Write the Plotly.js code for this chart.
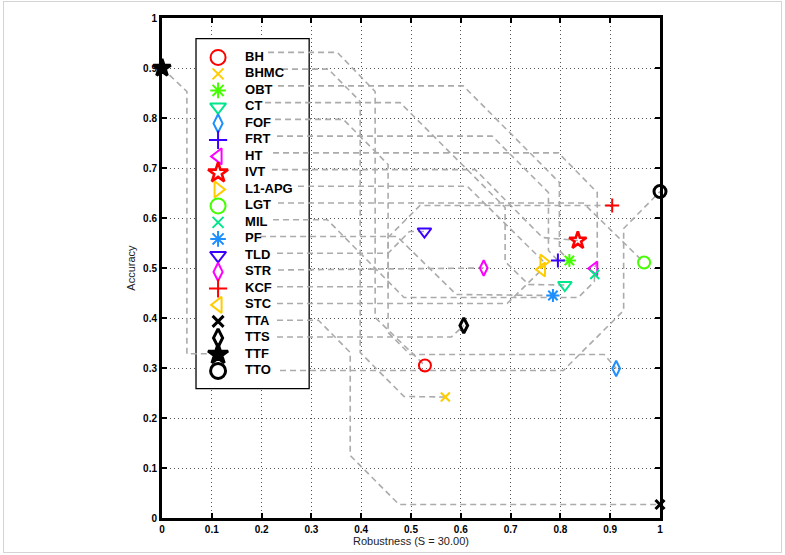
<!DOCTYPE html>
<html>
<head>
<meta charset="utf-8">
<script src="https://cdn.plot.ly/plotly-3.0.1.min.js"></script>
<style>
  html, body { margin: 0; padding: 0; background: #fff; }
  #wrap { position: relative; width: 785px; height: 555px; }
  #chart { position: absolute; left: 0; top: 0; width: 785px; height: 555px; }
  #frame { position: absolute; left: 3px; top: 1px; width: 777px; height: 550px;
           border: 1px solid #d4d4d4; pointer-events: none; }
</style>
</head>
<body>
<div id="wrap"><div id="chart"></div><div id="frame"></div></div>
<script>
// Trackers and their (robustness, accuracy) scores
const methods = ['BH','BHMC','OBT','CT','FOF','FRT','HT','IVT','L1-APG','LGT',
                 'MIL','PF','TLD','STR','KCF','STC','TTA','TTS','TTF','TTO'];
const robustness = [0.528, 0.569, 0.818, 0.809, 0.912, 0.795, 0.868, 0.835, 0.766, 0.968,
                    0.869, 0.785, 0.527, 0.646, 0.904, 0.763, 1.000, 0.606, 0.000, 1.000];
const accuracy   = [0.305, 0.242, 0.515, 0.466, 0.299, 0.515, 0.499, 0.555, 0.513, 0.511,
                    0.487, 0.445, 0.573, 0.500, 0.625, 0.497, 0.027, 0.385, 0.900, 0.653];
const axisTicks = [0, 0.1, 0.2, 0.3, 0.4, 0.5, 0.6, 0.7, 0.8, 0.9, 1];

// Marker styling per tracker
const colors = ['#ff0000','#ffcc00','#44ff00','#00e68a','#1e8fff','#3a00ff','#ff00ff',
                '#ff0000','#ffcc00','#44ff00','#00e68a','#1e8fff','#3a00ff','#ff00ff',
                '#ff0000','#ffcc00','#000000','#000000','#000000','#000000'];
const symbols = ['circle-open','x-thin-open','asterisk-open','triangle-down-open','diamond-tall-open',
                 'cross-thin-open','triangle-left-open','star-open','triangle-right-open','circle-open',
                 'x-thin-open','asterisk-open','triangle-down-open','diamond-tall-open','cross-thin-open',
                 'triangle-left-open','x-thin-open','diamond-tall-open','star','circle-open'];
const strokeW = colors.map((c, i) => c === '#000000' ? 3 : (symbols[i].startsWith('star') ? 2.6 : 2));

// Symbol-dependent sizes for the plot area and for the legend
const sizeFor = (sym, big) => {
  if (sym.startsWith('x-thin')) return big ? 11 : 9;
  if (sym.startsWith('cross-thin')) return big ? 13 : 10;
  if (sym.startsWith('asterisk')) return big ? 13 : 11;
  if (sym.startsWith('diamond')) return big ? 13 : 11;
  if (sym.startsWith('triangle')) return big ? 14 : 12;
  if (sym.startsWith('star')) return big ? 15 : 13;
  return big ? 15 : 12;
};
const pointSizes = symbols.map(s => sizeFor(s, false));
const legendSizes = symbols.map(s => sizeFor(s, true));

// Legend box geometry (axis units)
const box = { x0: 0.0683, x1: 0.2955, y0: 0.2586, y1: 0.9586 };
const legendMarkerX = 0.1126, legendTextX = 0.1668;
const textRowY = i => 0.9212 - 0.0330 * i;
const lineRowY = i => 0.9312 - 0.03348 * i;

// Leader line routes: start x at the legend, bend points (null y = legend row), end at the point
const leaders = {
  'BH':     { from: 0.213, bends: [[0.352, null], [0.428, 0.853], [0.428, 0.401]] },
  'BHMC':   { from: 0.241, bends: [[0.334, null], [0.398, 0.833], [0.398, 0.331], [0.486, 0.243]] },
  'OBT':    { from: 0.233, bends: [[0.605, null], [0.798, 0.671], [0.798, 0.535]] },
  'CT':     { from: 0.207, bends: [[0.478, null], [0.689, 0.621], [0.689, 0.513], [0.736, 0.467]] },
  'FOF':    { from: 0.227, bends: [[0.364, null], [0.454, 0.707], [0.454, 0.371], [0.498, 0.327], [0.888, 0.327]] },
  'FRT':    { from: 0.231, bends: [[0.663, null], [0.776, 0.651], [0.776, 0.535]] },
  'HT':     { from: 0.223, bends: [[0.796, null], [0.874, 0.651], [0.874, 0.513]] },
  'IVT':    { from: 0.221, bends: [[0.629, null], [0.764, 0.561]] },
  'L1-APG': { from: 0.273, bends: [[0.613, null]] },
  'LGT':    { from: 0.233, bends: [[0.846, null]] },
  'MIL':    { from: 0.223, bends: [[0.332, null], [0.486, 0.441], [0.836, 0.441], [0.868, 0.473]] },
  'PF':     { from: 0.197, bends: [[0.472, null], [0.591, 0.447]] },
  'TLD':    { from: 0.231, bends: [[0.454, null], [0.497, 0.573]] },
  'STR':    { from: 0.233, bends: [] },
  'KCF':    { from: 0.231, bends: [[0.454, null], [0.454, 0.561], [0.518, 0.625]] },
  'STC':    { from: 0.231, bends: [[0.693, null]] },
  'TTA':    { from: 0.231, bends: [[0.314, null], [0.378, 0.331], [0.378, 0.125], [0.476, 0.027]] },
  'TTS':    { from: 0.231, bends: [[0.581, null]] },
  'TTF':    { from: 0.090, bends: [[0.050, null], [0.050, 0.853]] },
  'TTO':    { from: 0.237, bends: [[0.806, null], [0.927, 0.415], [0.927, 0.579]] }
};

const traces = [];

// Gray dashed leaders, drawn first so markers sit on top
methods.forEach((m, i) => {
  const r = leaders[m];
  const xs = [r.from], ys = [lineRowY(i)];
  r.bends.forEach(([bx, by]) => { xs.push(bx); ys.push(by === null ? lineRowY(i) : by); });
  xs.push(robustness[i]); ys.push(accuracy[i]);
  traces.push({
    type: 'scatter', mode: 'lines', x: xs, y: ys,
    line: { color: '#ababab', width: 1.6, dash: '6px,4px' },
    hoverinfo: 'skip', showlegend: false, cliponaxis: false
  });
});

// Legend markers and labels
traces.push({
  type: 'scatter', mode: 'markers',
  x: methods.map(() => legendMarkerX), y: methods.map((m, i) => textRowY(i)),
  marker: { symbol: symbols, color: colors, size: legendSizes, opacity: 1,
            line: { color: colors, width: strokeW } },
  hoverinfo: 'skip', showlegend: false, cliponaxis: false
});
traces.push({
  type: 'scatter', mode: 'text',
  x: methods.map(() => legendTextX), y: methods.map((m, i) => textRowY(i)),
  text: methods, textposition: 'middle right',
  textfont: { family: 'Liberation Sans, Arial, sans-serif', size: 13, color: '#000', weight: 'bold' },
  hoverinfo: 'skip', showlegend: false, cliponaxis: false
});

// The trackers themselves
traces.push({
  type: 'scatter', mode: 'markers', x: robustness, y: accuracy, text: methods,
  marker: { symbol: symbols, color: colors, size: pointSizes, opacity: 1,
            line: { color: colors, width: strokeW } },
  hovertemplate: '%{text}<br>R=%{x:.3f}<br>A=%{y:.3f}<extra></extra>',
  showlegend: false, cliponaxis: false
});

const axisCommon = {
  range: [0, 1], tickvals: axisTicks, ticks: 'inside', ticklen: 5, tickwidth: 2,
  tickcolor: '#000', showline: true, linecolor: '#000', linewidth: 3, mirror: 'ticks',
  showgrid: true, gridcolor: '#555', gridwidth: 1, griddash: '1px,3px',
  zeroline: false, layer: 'below traces', fixedrange: true,
  tickfont: { family: 'Liberation Sans, Arial, sans-serif', size: 10, color: '#000', weight: 'bold' },
  automargin: false
};

const layout = {
  width: 785, height: 555,
  margin: { l: 162, r: 125, t: 18, b: 37, pad: 0 },
  paper_bgcolor: '#fff', plot_bgcolor: '#fff',
  showlegend: false,
  xaxis: Object.assign({}, axisCommon, {
    title: { text: 'Robustness (S = 30.00)', standoff: 2,
             font: { family: 'Liberation Sans, Arial, sans-serif', size: 11, color: '#222' } }
  }),
  yaxis: Object.assign({}, axisCommon, {
    title: { text: 'Accuracy', standoff: 6,
             font: { family: 'Liberation Sans, Arial, sans-serif', size: 11, color: '#222' } }
  }),
  shapes: [{
    type: 'rect', xref: 'x', yref: 'y', layer: 'between',
    x0: box.x0, x1: box.x1, y0: box.y0, y1: box.y1,
    fillcolor: '#fff', line: { color: '#000', width: 1.3 }
  }]
};

Plotly.newPlot('chart', traces, layout, { displayModeBar: false, staticPlot: true });
</script>
</body>
</html>
